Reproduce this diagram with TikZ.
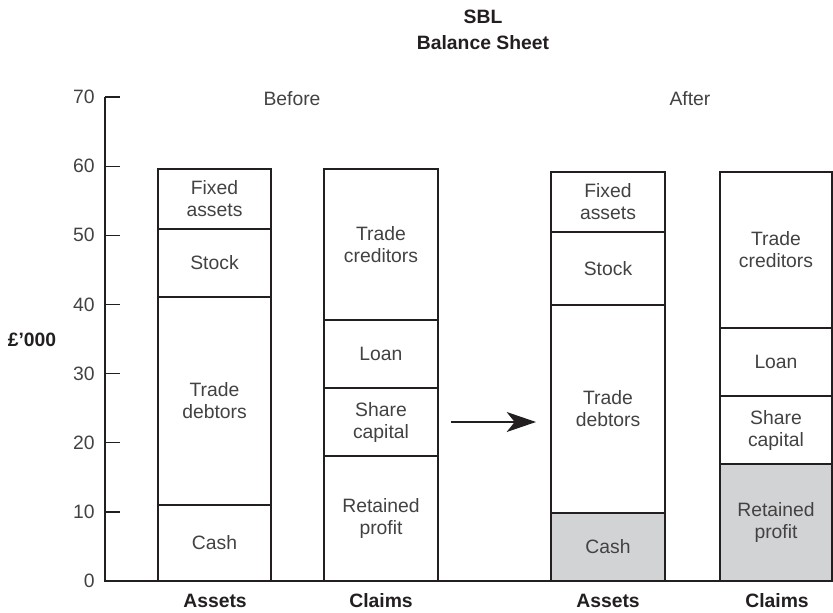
\documentclass[tikz,border=0pt]{standalone}
\usepackage{fontspec}
\setmainfont{Liberation Sans}
\usetikzlibrary{arrows.meta}
\definecolor{ink}{HTML}{231F20}
\definecolor{shade}{HTML}{D1D3D4}
\newcommand\blk[7]{%
  \filldraw[seg,fill=#6] (#2,#3) rectangle (#4,#5);
  \node[lbl] (#1) at ({(#2+#4)/2},{(#3+#5)/2}) {#7};}
\begin{document}
\begin{tikzpicture}[x=0.75pt,y=-0.75pt,
  seg/.style={draw=ink,line width=1.7pt},
  lbl/.style={font=\fontsize{14.5}{16.5}\selectfont,text=ink!85,align=center,inner sep=0pt},
  ttl/.style={font=\fontsize{14.5}{17}\selectfont\bfseries,text=ink,inner sep=0pt},
  axisline/.style={draw=ink,line width=1pt},
  ticklbl/.style={font=\fontsize{14.5}{17}\selectfont,text=ink!85,anchor=east,inner sep=0pt}]
\useasboundingbox (0,0) rectangle (833,612);
% axis
\coordinate (top) at (105,97);
\coordinate (origin) at (105,581);
\coordinate (right) at (840,581);
\draw[axisline] (top) -- (origin) -- (right);
\foreach \v in {0,10,...,70}{
  \pgfmathsetmacro{\yy}{581-\v*6.914}
  \coordinate (t\v) at (105,\yy);
  \coordinate (te\v) at (120,\yy);
  \draw[axisline] (t\v) -- (te\v);
  \node[ticklbl] (lab\v) at (95,\yy) {\v};
}
% titles
\node[ttl] (t1) at (483,17) {SBL};
\node[ttl] (t2) at (483,43) {Balance Sheet};
\node[ttl] (unit) at (32,340) {£'000};
\node[lbl] (before) at (292,99) {Before};
\node[lbl] (after) at (690,99) {After};
% before assets
\blk{bFix}{158}{169}{271}{229}{white}{Fixed\\assets}
\blk{bStk}{158}{229}{271}{297}{white}{Stock}
\blk{bDeb}{158}{297}{271}{505}{white}{Trade\\debtors}
\blk{bCash}{158}{505}{271}{581}{white}{Cash}
% before claims
\blk{bCred}{324}{169}{438}{320}{white}{Trade\\creditors}
\blk{bLoan}{324}{320}{438}{388}{white}{Loan}
\blk{bShare}{324}{388}{438}{456}{white}{Share\\capital}
\blk{bRet}{324}{456}{438}{581}{white}{Retained\\profit}
% after assets
\blk{aFix}{551}{172}{665}{232}{white}{Fixed\\assets}
\blk{aStk}{551}{232}{665}{305}{white}{Stock}
\blk{aDeb}{551}{305}{665}{513}{white}{Trade\\debtors}
\blk{aCash}{551}{513}{665}{581}{shade}{Cash}
% after claims
\blk{aCred}{720}{172}{832}{328}{white}{Trade\\creditors}
\blk{aLoan}{720}{328}{832}{396}{white}{Loan}
\blk{aShare}{720}{396}{832}{464}{white}{Share\\capital}
\blk{aRet}{720}{464}{832}{581}{shade}{Retained\\profit}
% arrow
\coordinate (arS) at (451,422);
\coordinate (arE) at (536,422);
\draw[ink,line width=0.9pt,-{Stealth[length=22pt,width=15pt,inset=6pt]}] (arS) -- (arE);
% bottom labels
\node[ttl] (bA) at (215,601) {Assets};
\node[ttl] (bC) at (381,601) {Claims};
\node[ttl] (aA) at (608,601) {Assets};
\node[ttl] (aC) at (777,601) {Claims};
\end{tikzpicture}
\end{document}
